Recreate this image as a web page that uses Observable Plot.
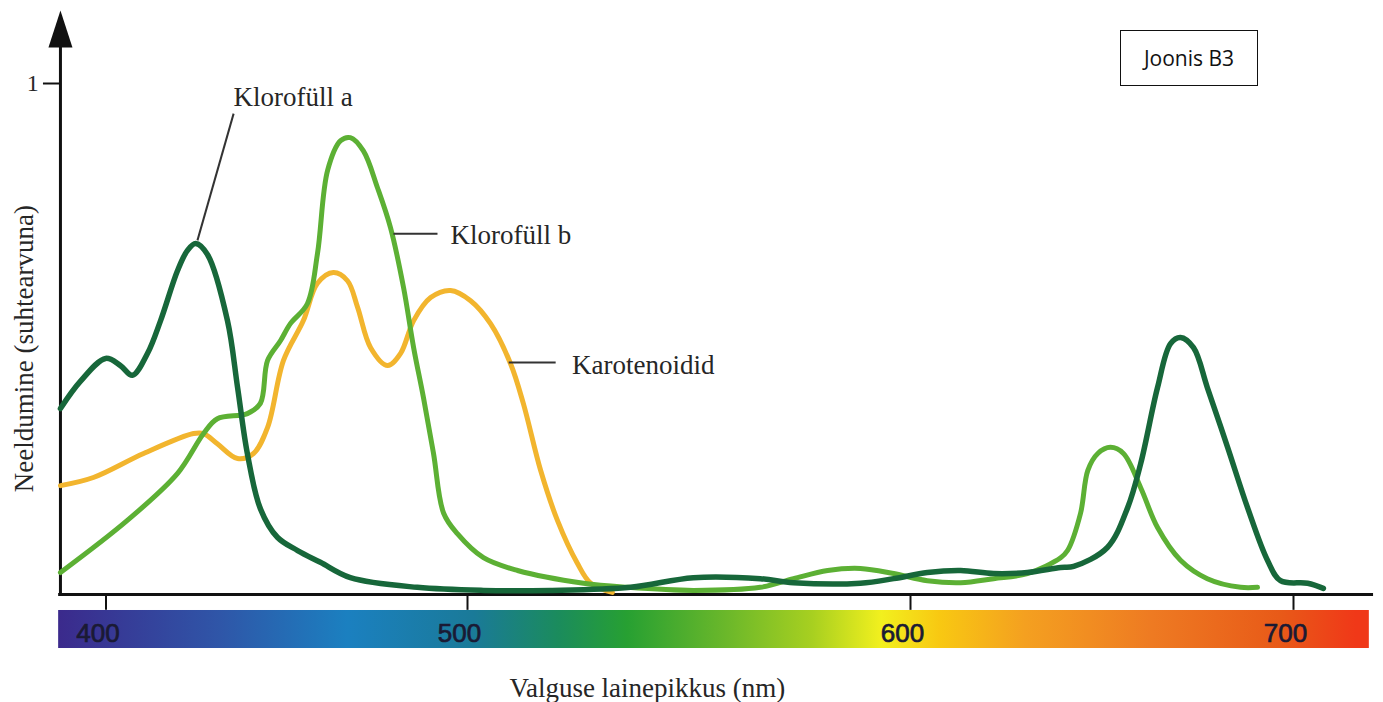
<!DOCTYPE html>
<html><head><meta charset="utf-8">
<script src="https://cdn.jsdelivr.net/npm/d3@7"></script>
<script src="https://cdn.jsdelivr.net/npm/@observablehq/plot@0.6"></script>
<style>
html,body{margin:0;padding:0;background:#fff;}
#wrap{position:relative;width:1383px;height:702px;overflow:hidden;}
#box{position:absolute;left:1120px;top:30px;width:136px;height:54px;border:1.5px solid #111;
 font-family:"Open Sans","Liberation Sans",sans-serif;font-size:21px;color:#111;
 display:flex;align-items:center;justify-content:center;background:#fff;}
</style></head>
<body><div id="wrap"><div id="box">Joonis B3</div></div>
<script>
// ---- data (wavelength nm, relative absorbance) ----
const tickNm = [400, 500, 600, 700];
const tickLabels = ["400", "500", "600", "700"];

const chlA_nm  = [387.4, 392.9, 399.9, 404.0, 407.3, 411.5, 415.1, 419.8, 422.5, 424.8, 428.1, 433.6, 436.4, 439.1, 442.7, 447.4, 453.0, 459.3, 467.6, 486.1, 503.6, 518.7, 536.8, 551.0, 566.1, 573.6, 588.7, 596.2, 604.4, 613.1, 621.7, 630.5, 639.2, 642.6, 651.4, 656.7, 660.1, 664.5, 667.9, 670.5, 673.9, 677.5, 682.8, 688.0, 693.2, 696.6, 703.7, 707.8];
const chlA_abs = [0.364, 0.417, 0.462, 0.448, 0.429, 0.472, 0.536, 0.634, 0.673, 0.687, 0.665, 0.536, 0.405, 0.276, 0.168, 0.112, 0.086, 0.063, 0.033, 0.014, 0.008, 0.008, 0.014, 0.033, 0.031, 0.023, 0.022, 0.031, 0.043, 0.047, 0.041, 0.043, 0.053, 0.055, 0.092, 0.170, 0.256, 0.405, 0.491, 0.503, 0.483, 0.405, 0.288, 0.170, 0.067, 0.027, 0.022, 0.012];

const chlB_nm  = [387.4, 405.9, 419.8, 427.0, 430.8, 439.1, 442.7, 444.7, 448.3, 451.0, 455.7, 458.5, 461.3, 464.9, 467.6, 471.2, 475.1, 478.7, 482.3, 485.1, 487.8, 490.6, 493.4, 497.2, 503.6, 511.3, 526.2, 536.1, 551.0, 566.1, 573.6, 581.3, 588.7, 596.2, 604.4, 613.1, 621.7, 630.5, 639.2, 641.0, 644.4, 646.3, 648.9, 652.2, 655.6, 660.1, 664.5, 670.5, 677.5, 686.2, 690.6];
const chlB_abs = [0.043, 0.145, 0.237, 0.315, 0.344, 0.354, 0.374, 0.458, 0.497, 0.530, 0.569, 0.667, 0.830, 0.888, 0.894, 0.868, 0.796, 0.718, 0.601, 0.483, 0.386, 0.276, 0.159, 0.119, 0.072, 0.047, 0.022, 0.014, 0.008, 0.014, 0.031, 0.047, 0.051, 0.041, 0.027, 0.023, 0.031, 0.041, 0.072, 0.086, 0.159, 0.243, 0.276, 0.288, 0.276, 0.209, 0.131, 0.067, 0.031, 0.014, 0.014];

const car_nm  = [387.4, 396.5, 410.4, 424.2, 427.0, 430.8, 436.4, 440.8, 444.7, 449.1, 454.6, 458.5, 462.9, 466.8, 469.6, 473.2, 477.9, 481.5, 485.1, 489.8, 495.3, 500.7, 505.2, 509.7, 512.6, 516.5, 520.3, 524.8, 527.8, 532.7];
const car_abs = [0.213, 0.229, 0.276, 0.315, 0.315, 0.295, 0.266, 0.276, 0.327, 0.458, 0.536, 0.609, 0.630, 0.614, 0.562, 0.483, 0.448, 0.472, 0.536, 0.581, 0.595, 0.575, 0.530, 0.452, 0.374, 0.243, 0.145, 0.061, 0.022, 0.004];

const seriesNames = ["Klorofüll a", "Klorofüll b", "Karotenoidid"];

// spectrum colour bar stops (nm, colour)
const spectrumNm     = [386.9, 431.7, 466.8, 501.6, 520.8, 536.1, 558.9, 578.1, 593.5, 607.8, 630.0, 663.4, 696.6, 716.4];
const spectrumColors = ["#3b2a8c", "#2f56a8", "#1b80c0", "#1a7a98", "#1b8c5c", "#27a032", "#6cb82a", "#a8d020", "#f2f01e", "#f8c812", "#f4a020", "#ee7a22", "#e85a18", "#f03818"];

// ---- build tables ----
const toRows = (nm, ab) => nm.map((w, i) => ({nm: w, abs: ab[i]}));
const chlA = toRows(chlA_nm, chlA_abs);
const chlB = toRows(chlB_nm, chlB_abs);
const car  = toRows(car_nm, car_abs);

const serif = '"Liberation Serif","DejaVu Serif",serif';
const textCol = "#262626";

// annotation layout (data coordinates)
const leaders = [
  {x1: 425.3, y1: 0.693, x2: 435.3, y2: 0.941},
  {x1: 479.5, y1: 0.706, x2: 491.7, y2: 0.706},
  {x1: 509.3, y1: 0.454, x2: 519.9, y2: 0.454}
];
const labels = [
  {x: 435.3, y: 0.9738, text: seriesNames[0]},
  {x: 495.3, y: 0.7037, text: seriesNames[1]},
  {x: 523.6, y: 0.449, text: seriesNames[2]}
];

const xMin = 387.4, xBarL = 386.9, xBarR = 719.8, xAxisR = 720.9;

const arrowSymbol = {
  draw(ctx) {
    ctx.moveTo(0, -18.5);
    ctx.lineTo(12, 18.5);
    ctx.lineTo(-12, 18.5);
    ctx.closePath();
  }
};

const plot = Plot.plot({
  width: 1383,
  height: 702,
  margin: 0,
  style: {background: "#fff", overflow: "visible"},
  x: {type: "linear", domain: tickNm, range: [105.5, 467, 910, 1293], axis: null},
  y: {type: "linear", domain: [0, 1], range: [594, 83], axis: null},
  marks: [
    // spectrum bar
    Plot.rect([{x1: xBarL, x2: xBarR, y1: -0.0313, y2: -0.1057}], {x1: "x1", x2: "x2", y1: "y1", y2: "y2", fill: "url(#spectrum)"}),
    Plot.text(tickNm, {x: d => d, y: -0.0773, text: (d, i) => tickLabels[i], dx: -8,
      fontSize: 26, fontFamily: '"Liberation Sans",Arial,sans-serif', fill: "#1a1a34", stroke: "#1a1a34", strokeWidth: 0.7}),
    // axes
    Plot.ruleX([xMin], {y1: 0, y2: 1.08, stroke: "#111", strokeWidth: 3}),
    Plot.ruleY([0], {x1: xBarL, x2: xAxisR, stroke: "#111", strokeWidth: 3}),
    Plot.ruleX(tickNm, {y1: 0, y2: -0.031, stroke: "#111", strokeWidth: 2}),
    Plot.ruleY([1], {x1: 382.7, x2: xMin, stroke: "#111", strokeWidth: 2}),
    Plot.text([1], {x: 381.4, y: 1, text: d => String(d), textAnchor: "end", fontSize: 24, fontFamily: serif, fill: textCol}),
    Plot.dot([0], {x: xMin, y: 1.1067, symbol: arrowSymbol, fill: "#111", stroke: "none", r: 10}),
    // axis titles
    Plot.text(["Neeldumine (suhtearvuna)"], {x: 377.3, y: 0.481, text: d => d, rotate: -90, fontSize: 27, fontFamily: serif, fill: textCol}),
    Plot.text(["Valguse lainepikkus (nm)"], {x: 540.6, y: -0.1828, text: d => d, fontSize: 27, fontFamily: serif, fill: textCol}),
    // curves
    Plot.line(car,  {x: "nm", y: "abs", stroke: "#f2b52e", strokeWidth: 5, curve: "catmull-rom", strokeLinecap: "round"}),
    Plot.line(chlB, {x: "nm", y: "abs", stroke: "#5cb034", strokeWidth: 5, curve: "catmull-rom", strokeLinecap: "round"}),
    Plot.line(chlA, {x: "nm", y: "abs", stroke: "#17673a", strokeWidth: 5.5, curve: "catmull-rom", strokeLinecap: "round"}),
    // annotations
    Plot.link(leaders, {x1: "x1", y1: "y1", x2: "x2", y2: "y2", stroke: "#333", strokeWidth: 2}),
    Plot.text(labels, {x: "x", y: "y", text: "text", textAnchor: "start", fontSize: 27, fontFamily: serif, fill: textCol})
  ]
});

// gradient for the spectrum bar
const xs = plot.scale("x");
const p0 = xs.apply(xBarL), p1 = xs.apply(xBarR);
const defs = d3.select(plot).insert("defs", ":first-child");
const grad = defs.append("linearGradient").attr("id", "spectrum").attr("x1", 0).attr("x2", 1).attr("y1", 0).attr("y2", 0);
spectrumNm.forEach((w, i) => {
  grad.append("stop").attr("offset", ((xs.apply(w) - p0) / (p1 - p0)).toFixed(4)).attr("stop-color", spectrumColors[i]);
});

document.getElementById("wrap").prepend(plot);
</script>
</body></html>
